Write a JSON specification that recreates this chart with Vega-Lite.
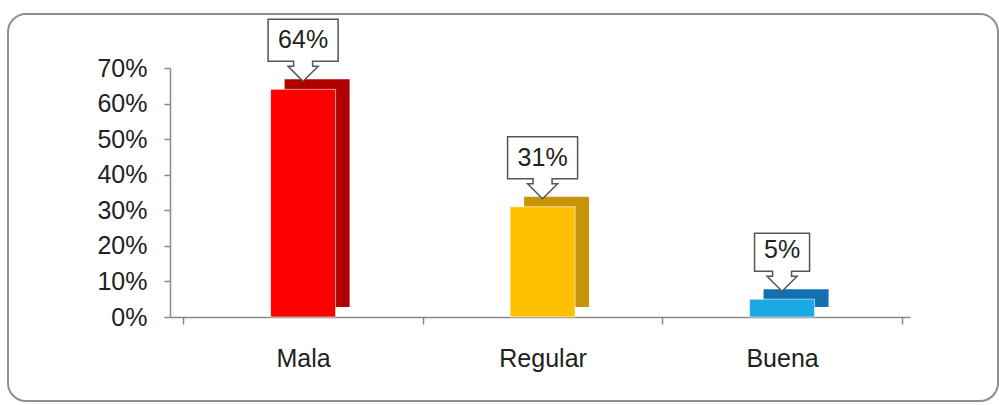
{
  "$schema": "https://vega.github.io/schema/vega-lite/v6.json",
  "width": 990,
  "height": 387,
  "autosize": {"type": "none"},
  "padding": {"left": 8, "top": 14, "right": 1, "bottom": 4},
  "background": "white",
  "config": {
    "view": {"stroke": "#8f8f8f", "strokeWidth": 2, "cornerRadius": 18, "fill": "white"},
    "font": "Liberation Sans",
    "text": {"font": "Liberation Sans"}
  },
  "data": {
    "values": [
      {"nivel": "Mala", "porcentaje": 0.64},
      {"nivel": "Regular", "porcentaje": 0.31},
      {"nivel": "Buena", "porcentaje": 0.05}
    ]
  },
  "encoding": {
    "x": {
      "field": "nivel",
      "type": "nominal",
      "sort": ["Mala", "Regular", "Buena"],
      "scale": {"range": [162, 902], "paddingInner": 0, "paddingOuter": 0.045, "align": 0.62},
      "axis": {
        "title": null,
        "labelAngle": 0,
        "offset": -84,
        "tickBand": "extent",
        "domainColor": "#8a8a8a",
        "domainWidth": 1.5,
        "tickColor": "#8a8a8a",
        "tickWidth": 1.5,
        "tickSize": 7,
        "labelFont": "Liberation Sans",
        "labelFontSize": 25,
        "labelColor": "#222222",
        "labelPadding": 22
      }
    },
    "y": {
      "field": "porcentaje",
      "type": "quantitative",
      "scale": {"domain": [0, 0.7], "range": [303, 54], "nice": false},
      "axis": {
        "title": null,
        "values": [0, 0.1, 0.2, 0.3, 0.4, 0.5, 0.6, 0.7],
        "format": ".0%",
        "offset": -162,
        "grid": false,
        "domainColor": "#8a8a8a",
        "domainWidth": 1.5,
        "tickColor": "#8a8a8a",
        "tickWidth": 1.5,
        "tickSize": 6,
        "labelPadding": 17,
        "labelFont": "Liberation Sans",
        "labelFontSize": 25,
        "labelColor": "#222222"
      }
    }
  },
  "layer": [
    {
      "mark": {"type": "bar", "width": 65, "xOffset": 14, "yOffset": -10, "y2Offset": -10},
      "encoding": {
        "color": {
          "field": "nivel",
          "type": "nominal",
          "scale": {"domain": ["Mala", "Regular", "Buena"], "range": ["#b00000", "#c8950a", "#1370b0"]},
          "legend": null
        }
      }
    },
    {
      "mark": {"type": "bar", "width": 65, "stroke": "#ffffff", "strokeOpacity": 0.6, "strokeWidth": 1},
      "encoding": {
        "fill": {
          "field": "nivel",
          "type": "nominal",
          "scale": {"domain": ["Mala", "Regular", "Buena"], "range": ["#ff0000", "#ffc000", "#1ba9e3"]},
          "legend": null
        }
      }
    },
    {
      "mark": {"type": "point", "filled": true, "fill": "white", "stroke": "#555555", "strokeWidth": 1.5, "opacity": 1, "size": 1600},
      "encoding": {
        "shape": {
          "field": "nivel",
          "type": "nominal",
          "scale": {
            "domain": ["Mala", "Regular", "Buena"],
            "range": [
              "M0,-0.4L0.75,-1.15L0.475,-1.15L0.475,-1.4L1.75,-1.4L1.75,-3.5L-1.75,-3.5L-1.75,-1.4L-0.475,-1.4L-0.475,-1.15L-0.75,-1.15Z",
              "M0,-0.4L0.75,-1.15L0.475,-1.15L0.475,-1.4L1.75,-1.4L1.75,-3.5L-1.75,-3.5L-1.75,-1.4L-0.475,-1.4L-0.475,-1.15L-0.75,-1.15Z",
              "M0,-0.4L0.75,-1.15L0.475,-1.15L0.475,-1.4L1.375,-1.4L1.375,-3.3L-1.375,-3.3L-1.375,-1.4L-0.475,-1.4L-0.475,-1.15L-0.75,-1.15Z"
            ]
          },
          "legend": null
        }
      }
    },
    {
      "mark": {"type": "text", "dy": -49, "fontSize": 25, "color": "#222222", "font": "Liberation Sans"},
      "encoding": {
        "text": {"field": "porcentaje", "type": "quantitative", "format": ".0%"}
      }
    }
  ],
  "resolve": {"scale": {"color": "independent", "fill": "independent"}}
}
